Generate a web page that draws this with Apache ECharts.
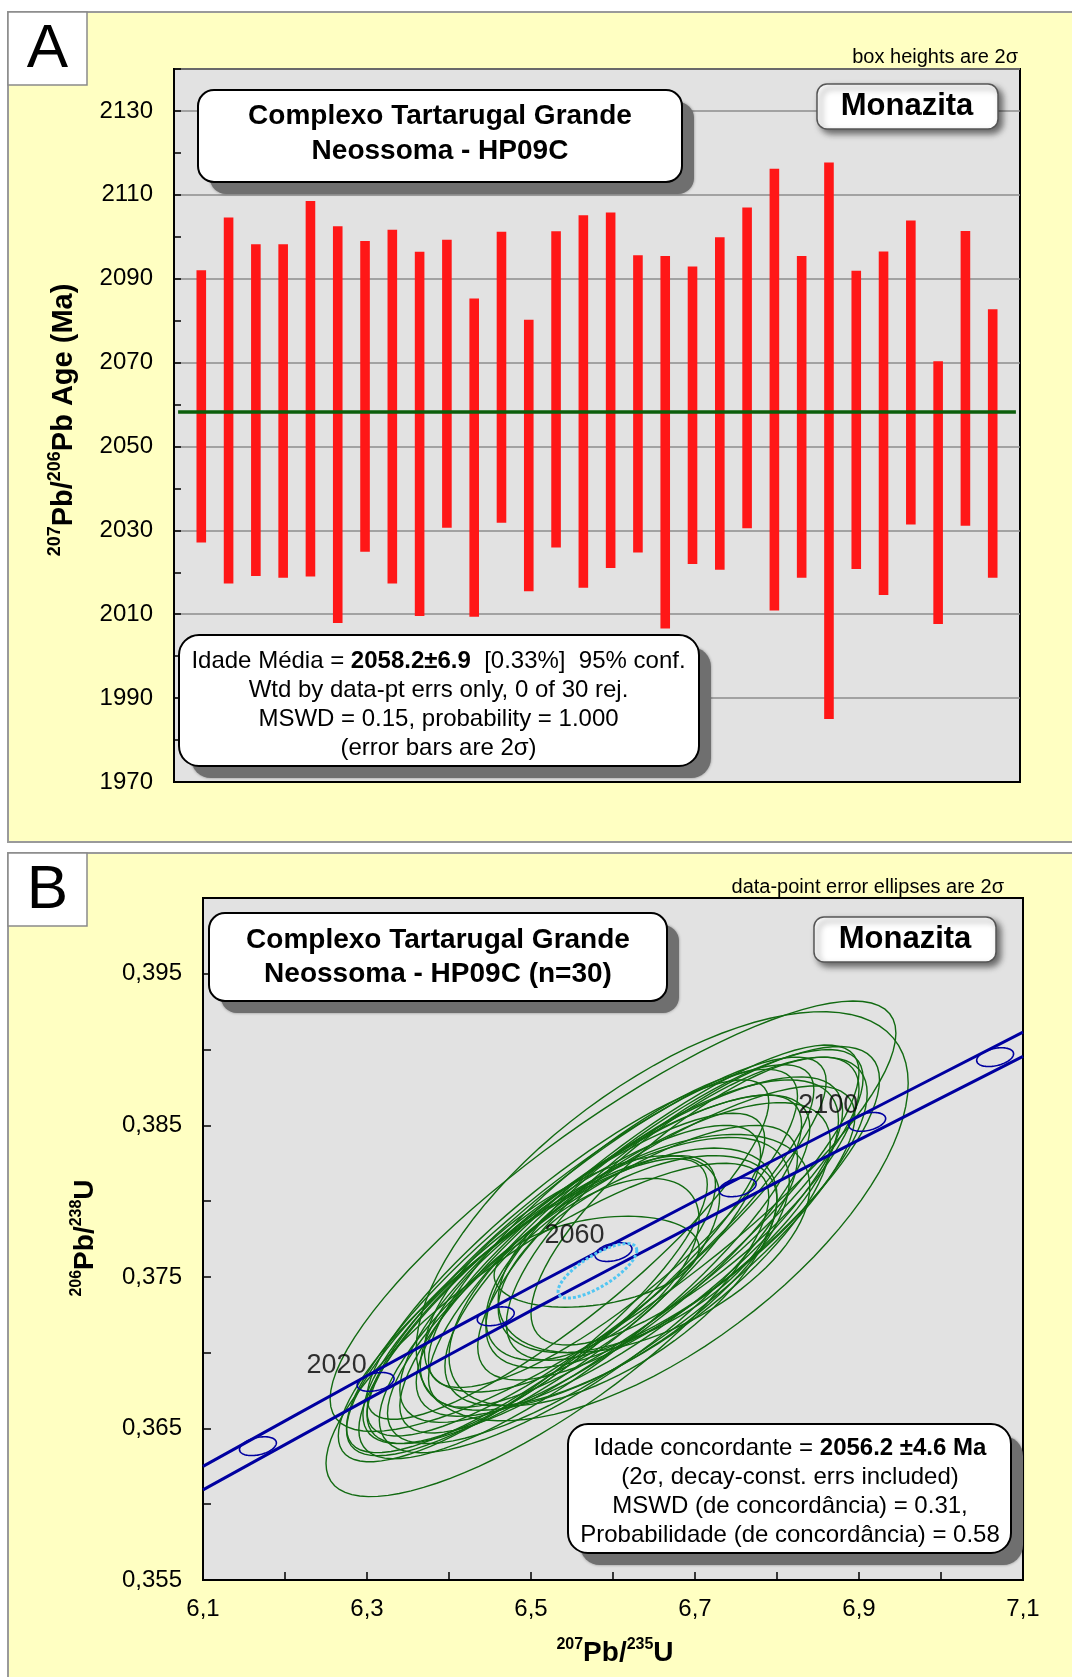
<!DOCTYPE html>
<html><head><meta charset="utf-8">
<script src="https://cdn.jsdelivr.net/npm/echarts/dist/echarts.min.js"></script>
<style>html,body{margin:0;padding:0;background:#fff}#c{width:1072px;height:1677px}</style>
</head><body><div id="c"></div>
<script>
// ---------- Panel A data ----------
const barIndex = [1,2,3,4,5,6,7,8,9,10,11,12,13,14,15,16,17,18,19,20,21,22,23,24,25,26,27,28,29,30];
const barLow  = [2027.1,2017.3,2019.1,2018.7,2019.0,2007.9,2024.9,2017.3,2009.6,2030.6,2009.4,2031.8,2015.5,2025.9,2016.3,2021.0,2024.7,2006.6,2022.0,2020.6,2030.5,2010.9,2018.7,1985.0,2020.8,2014.6,2031.4,2007.7,2031.1,2018.7];
const barHigh = [2092.0,2104.6,2098.2,2098.2,2108.5,2102.5,2099.0,2101.7,2096.4,2099.3,2085.3,2101.2,2080.2,2101.3,2105.1,2105.8,2095.6,2095.4,2092.9,2099.9,2107.0,2116.2,2095.4,2117.7,2091.9,2096.5,2103.9,2070.3,2101.4,2082.7];
const meanAge = 2058.2;
const meanErr = 6.9;
const meanLineX = [0.15, 30.85];

// ---------- Panel B data ----------
const concAges = [2000,2020,2040,2060,2080,2100,2120];
const concX    = [6.167,6.3105,6.457,6.6006,6.752,6.910,7.066];
const concY    = [0.36383,0.36807,0.37240,0.37664,0.38091,0.38523,0.38950];
const labelAges = [2020,2060,2100];
const bandX     = [6.1,6.3,6.5,6.7,6.9,7.1];
const bandUpper = [0.36250,0.36848,0.37433,0.38001,0.38560,0.39115];
const bandLower = [0.36095,0.36690,0.37277,0.37845,0.38404,0.38955];
const markerAx = 0.0225, markerBy = 0.00062, markerRho = 0.35;

// data-point error ellipses: centre x, centre y, 2s x, 2s y, rho
const ellCx  = [6.600,6.520,6.660,6.580,6.575,6.560,6.620,6.590,6.640,6.540,6.580,6.690,6.610,6.530,6.660,6.590,6.630,6.560,6.680,6.510,6.620,6.600,6.550,6.650,6.570,6.700,6.490,6.630,6.600,6.545];
const ellCy  = [0.3790,0.3715,0.3790,0.3760,0.3755,0.3750,0.3770,0.3762,0.3782,0.3745,0.3770,0.3795,0.3758,0.3745,0.3785,0.3752,0.3765,0.3762,0.3792,0.3735,0.3775,0.3750,0.3752,0.3772,0.3742,0.3800,0.3728,0.3765,0.3782,0.3768];
const ellAx  = [0.345,0.270,0.300,0.125,0.130,0.270,0.260,0.250,0.265,0.240,0.280,0.220,0.285,0.255,0.215,0.225,0.170,0.285,0.245,0.215,0.280,0.200,0.180,0.190,0.255,0.200,0.225,0.235,0.225,0.245];
const ellBy  = [0.0142,0.0110,0.0135,0.0030,0.0060,0.0120,0.0112,0.0108,0.0118,0.0105,0.0125,0.0100,0.0118,0.0113,0.0095,0.0090,0.0065,0.0128,0.0110,0.0095,0.0128,0.0085,0.0078,0.0072,0.0108,0.0095,0.0100,0.0100,0.0105,0.0112];
const ellRho = [0.85,0.80,0.65,0.30,0.55,0.84,0.80,0.80,0.84,0.82,0.87,0.76,0.83,0.85,0.72,0.68,0.55,0.87,0.80,0.80,0.86,0.62,0.65,0.52,0.80,0.78,0.83,0.74,0.83,0.87];
const concordiaAge = 2056.2, concordiaErr = 4.6;
const concEllipse = [6.581, 0.3754, 0.048, 0.0018, 0.75];

const FONT = '"Liberation Sans", Arial, sans-serif';
const YEL = '#ffffc2';
const PLOTBG = '#e2e2e2';

function ellipsePts(api, cx, cy, ax, by, rho, n) {
  const pts = [], s = Math.sqrt(1 - rho * rho);
  for (let k = 0; k < n; k++) {
    const t = 2 * Math.PI * k / n;
    pts.push(api.coord([cx + ax * Math.cos(t), cy + by * (rho * Math.cos(t) + s * Math.sin(t))]));
  }
  return pts;
}
function ellipseRender(stroke, width, dash) {
  return function (params, api) {
    return {
      type: 'polygon',
      shape: { points: ellipsePts(api, api.value(0), api.value(1), api.value(2), api.value(3), api.value(4), 90) },
      style: { fill: 'none', stroke: stroke, lineWidth: width, lineDash: dash || null }
    };
  };
}

function box(x, y, w, h, r, hardShadow) {
  const els = [];
  if (hardShadow) {
    els.push({ type: 'rect', z: 100, shape: { x: x + 12, y: y + 12, width: w, height: h, r: r },
      style: { fill: '#6f6f6f', shadowBlur: 3, shadowColor: 'rgba(0,0,0,0.4)' } });
    els.push({ type: 'rect', z: 101, shape: { x: x, y: y, width: w, height: h, r: r },
      style: { fill: '#fff', stroke: '#000', lineWidth: 2 } });
  } else {
    els.push({ type: 'rect', z: 101, shape: { x: x, y: y, width: w, height: h, r: r },
      style: { fill: '#fff', stroke: '#555', lineWidth: 1.5, shadowBlur: 6, shadowOffsetX: 4, shadowOffsetY: 4, shadowColor: 'rgba(0,0,0,0.55)' } });
  }
  return els;
}
function txt(x, y, text, size, weight, lh) {
  return { type: 'text', z: 102, x: x, y: y,
    style: { text: text, fontSize: size, fontWeight: weight || 'normal', fontFamily: FONT, fill: '#000', align: 'center', verticalAlign: 'middle', lineHeight: lh || size * 1.2 } };
}
const richStats = {
  r: { fontSize: 24, fontFamily: FONT, fill: '#000', lineHeight: 29 },
  b: { fontSize: 24, fontWeight: 'bold', fontFamily: FONT, fill: '#000', lineHeight: 29 }
};

const graphics = [
  // panel backgrounds
  { type: 'rect', z: -10, shape: { x: 8, y: 12, width: 1070, height: 830 }, style: { fill: YEL, stroke: '#9a9a9a', lineWidth: 2 } },
  { type: 'rect', z: -10, shape: { x: 8, y: 853, width: 1070, height: 830 }, style: { fill: YEL, stroke: '#9a9a9a', lineWidth: 2 } },
  { type: 'rect', z: 100, shape: { x: 8, y: 12, width: 79, height: 73 }, style: { fill: '#fff', stroke: '#8a8a8a', lineWidth: 1.5 } },
  { type: 'rect', z: 100, shape: { x: 8, y: 853, width: 79, height: 73 }, style: { fill: '#fff', stroke: '#8a8a8a', lineWidth: 1.5 } },
  txt(47.5, 50, 'A', 62),
  txt(47.5, 891, 'B', 62),
  // notes
  { type: 'text', z: 102, x: 1018, y: 57, style: { text: 'box heights are 2σ', fontSize: 20, fontFamily: FONT, fill: '#000', align: 'right', verticalAlign: 'middle' } },
  { type: 'text', z: 102, x: 1004, y: 887, style: { text: 'data-point error ellipses are 2σ', fontSize: 20, fontFamily: FONT, fill: '#000', align: 'right', verticalAlign: 'middle' } },
  // panel A boxes
  ...box(198, 90, 484, 92, 16, true),
  txt(440, 134, 'Complexo Tartarugal Grande\nNeossoma - HP09C', 28, 'bold', 35),
  ...box(817, 84, 181, 45, 10, false),
  txt(907, 106.5, 'Monazita', 31, 'bold'),
  ...box(179, 635, 520, 131, 20, true),
  { type: 'text', z: 102, x: 438.5, y: 704.5, style: {
      text: '{r|Idade Média = }{b|' + meanAge.toFixed(1) + '±' + meanErr.toFixed(1) + '}{r|  [0.33%]  95% conf.}\n{r|Wtd by data-pt errs only, 0 of 30 rej.}\n{r|MSWD = 0.15, probability = 1.000}\n{r|(error bars are 2σ)}',
      align: 'center', verticalAlign: 'middle', fontFamily: FONT, rich: richStats } },
  // panel B boxes
  ...box(209, 913, 458, 88, 16, true),
  txt(438, 957.5, 'Complexo Tartarugal Grande\nNeossoma - HP09C (n=30)', 28, 'bold', 34),
  ...box(814, 917, 182, 45, 10, false),
  txt(905, 939.5, 'Monazita', 31, 'bold'),
  ...box(568, 1424, 443, 129, 20, true),
  { type: 'text', z: 102, x: 790, y: 1491.5, style: {
      text: '{r|Idade concordante = }{b|' + concordiaAge.toFixed(1) + ' ±' + concordiaErr.toFixed(1) + ' Ma}\n{r|(2σ, decay-const. errs included)}\n{r|MSWD (de concordância) = 0.31,}\n{r|Probabilidade (de concordância) = 0.58}',
      align: 'center', verticalAlign: 'middle', fontFamily: FONT, rich: richStats } },
  // axis titles
  { type: 'text', z: 102, x: 62, y: 420, rotation: Math.PI / 2, style: {
      text: '{s|207}{b|Pb/}{s|206}{b|Pb Age (Ma)}', align: 'center', verticalAlign: 'middle',
      rich: { s: { fontSize: 18, fontWeight: 'bold', fontFamily: FONT, fill: '#000', verticalAlign: 'top', lineHeight: 18 },
              b: { fontSize: 29, fontWeight: 'bold', fontFamily: FONT, fill: '#000', verticalAlign: 'bottom', lineHeight: 32 } } } },
  { type: 'text', z: 102, x: 84, y: 1238, rotation: Math.PI / 2, style: {
      text: '{s|206}{b|Pb/}{s|238}{b|U}', align: 'center', verticalAlign: 'middle',
      rich: { s: { fontSize: 16, fontWeight: 'bold', fontFamily: FONT, fill: '#000', verticalAlign: 'top', lineHeight: 16 },
              b: { fontSize: 28, fontWeight: 'bold', fontFamily: FONT, fill: '#000', verticalAlign: 'bottom', lineHeight: 30 } } } },
  { type: 'text', z: 102, x: 615, y: 1652, style: {
      text: '{s|207}{b|Pb/}{s|235}{b|U}', align: 'center', verticalAlign: 'middle',
      rich: { s: { fontSize: 16, fontWeight: 'bold', fontFamily: FONT, fill: '#000', verticalAlign: 'top', lineHeight: 16 },
              b: { fontSize: 28, fontWeight: 'bold', fontFamily: FONT, fill: '#000', verticalAlign: 'bottom', lineHeight: 30 } } } }
];

const axisLineBlack = { show: true, lineStyle: { color: '#000', width: 2 } };

const option = {
  animation: false,
  backgroundColor: '#fff',
  textStyle: { fontFamily: FONT },
  graphic: { elements: graphics },
  grid: [
    { left: 174, top: 69, width: 846, height: 713, show: true, backgroundColor: PLOTBG, borderColor: '#000', borderWidth: 2 },
    { left: 203, top: 898, width: 820, height: 682, show: true, backgroundColor: PLOTBG, borderColor: '#000', borderWidth: 2 }
  ],
  xAxis: [
    { gridIndex: 0, type: 'value', min: 0, max: 31, axisLine: axisLineBlack, axisTick: { show: false }, axisLabel: { show: false }, splitLine: { show: false } },
    { gridIndex: 1, type: 'value', min: 6.1, max: 7.1, interval: 0.1, axisLine: axisLineBlack,
      axisTick: { show: true, inside: true, length: 8, lineStyle: { color: '#000', width: 1.5 } },
      axisLabel: { fontSize: 24, color: '#000', margin: 17, fontFamily: FONT,
        formatter: v => (Math.round(v * 10) % 2 === 1) ? v.toFixed(1).replace('.', ',') : '' },
      splitLine: { show: false } }
  ],
  yAxis: [
    { gridIndex: 0, type: 'value', min: 1970, max: 2140, interval: 10, axisLine: axisLineBlack,
      axisTick: { show: true, inside: true, length: 7, lineStyle: { color: '#000', width: 1.5 } },
      axisLabel: { fontSize: 24, color: '#000', margin: 21, fontFamily: FONT,
        formatter: v => ((Math.round(v) - 1970) % 20 === 0 && v < 2140) ? String(Math.round(v)) : '' },
      splitLine: { show: false } },
    { gridIndex: 0, type: 'value', min: 1970, max: 2140, interval: 20, position: 'right',
      axisLine: { show: false }, axisTick: { show: false }, axisLabel: { show: false },
      splitLine: { show: true, lineStyle: { color: '#8c8c8c', width: 1.5 } } },
    { gridIndex: 1, type: 'value', min: 0.355, max: 0.400, interval: 0.005, axisLine: axisLineBlack,
      axisTick: { show: true, inside: true, length: 8, lineStyle: { color: '#000', width: 1.5 } },
      axisLabel: { fontSize: 24, color: '#000', margin: 21, fontFamily: FONT,
        formatter: v => (Math.round(v * 1000) % 10 === 5) ? v.toFixed(3).replace('.', ',') : '' },
      splitLine: { show: false } }
  ],
  series: [
    { type: 'custom', xAxisIndex: 0, yAxisIndex: 0, z: 3,
      data: barIndex.map((x, i) => [x, barLow[i], barHigh[i]]),
      encode: { x: 0, y: [1, 2] },
      renderItem: (params, api) => {
        const x = api.value(0);
        const p1 = api.coord([x, api.value(2)]), p2 = api.coord([x, api.value(1)]);
        const w = 9.6;
        return { type: 'rect', shape: { x: p1[0] - w / 2, y: p1[1], width: w, height: p2[1] - p1[1] }, style: { fill: '#ff1717' } };
      } },
    { type: 'line', xAxisIndex: 0, yAxisIndex: 0, z: 5, symbol: 'none',
      data: meanLineX.map(x => [x, meanAge]), lineStyle: { color: '#0b5e0b', width: 3.5 } },
    // concordia band
    { type: 'line', xAxisIndex: 1, yAxisIndex: 2, z: 4, symbol: 'none', smooth: 0.3,
      data: bandX.map((x, i) => [x, bandUpper[i]]), lineStyle: { color: '#0000a0', width: 3 } },
    { type: 'line', xAxisIndex: 1, yAxisIndex: 2, z: 4, symbol: 'none', smooth: 0.3,
      data: bandX.map((x, i) => [x, bandLower[i]]), lineStyle: { color: '#0000a0', width: 3 } },
    // age markers on concordia
    { type: 'custom', xAxisIndex: 1, yAxisIndex: 2, z: 4,
      data: concX.map((x, i) => [x, concY[i], markerAx, markerBy, markerRho]),
      renderItem: ellipseRender('#0000a0', 1.6) },
    // data-point ellipses
    { type: 'custom', xAxisIndex: 1, yAxisIndex: 2, z: 3,
      data: ellCx.map((x, i) => [x, ellCy[i], ellAx[i], ellBy[i], ellRho[i]]),
      renderItem: ellipseRender('#116a11', 1.4) },
    // concordia age ellipse
    { type: 'custom', xAxisIndex: 1, yAxisIndex: 2, z: 6,
      data: [concEllipse],
      renderItem: ellipseRender('#52c6f2', 3, [3, 2]) },
    // age labels
    { type: 'scatter', xAxisIndex: 1, yAxisIndex: 2, z: 7, symbolSize: 1, itemStyle: { color: 'rgba(0,0,0,0)' },
      data: labelAges.map(a => { const i = concAges.indexOf(a); return [concX[i], concY[i], a]; }),
      label: { show: true, position: 'inside', offset: [-39, -16], fontSize: 27, color: '#000', fontFamily: FONT,
        formatter: p => String(p.data[2]) } }
  ]
};

const chart = echarts.init(document.getElementById('c'));
chart.setOption(option);
</script>
</body></html>
